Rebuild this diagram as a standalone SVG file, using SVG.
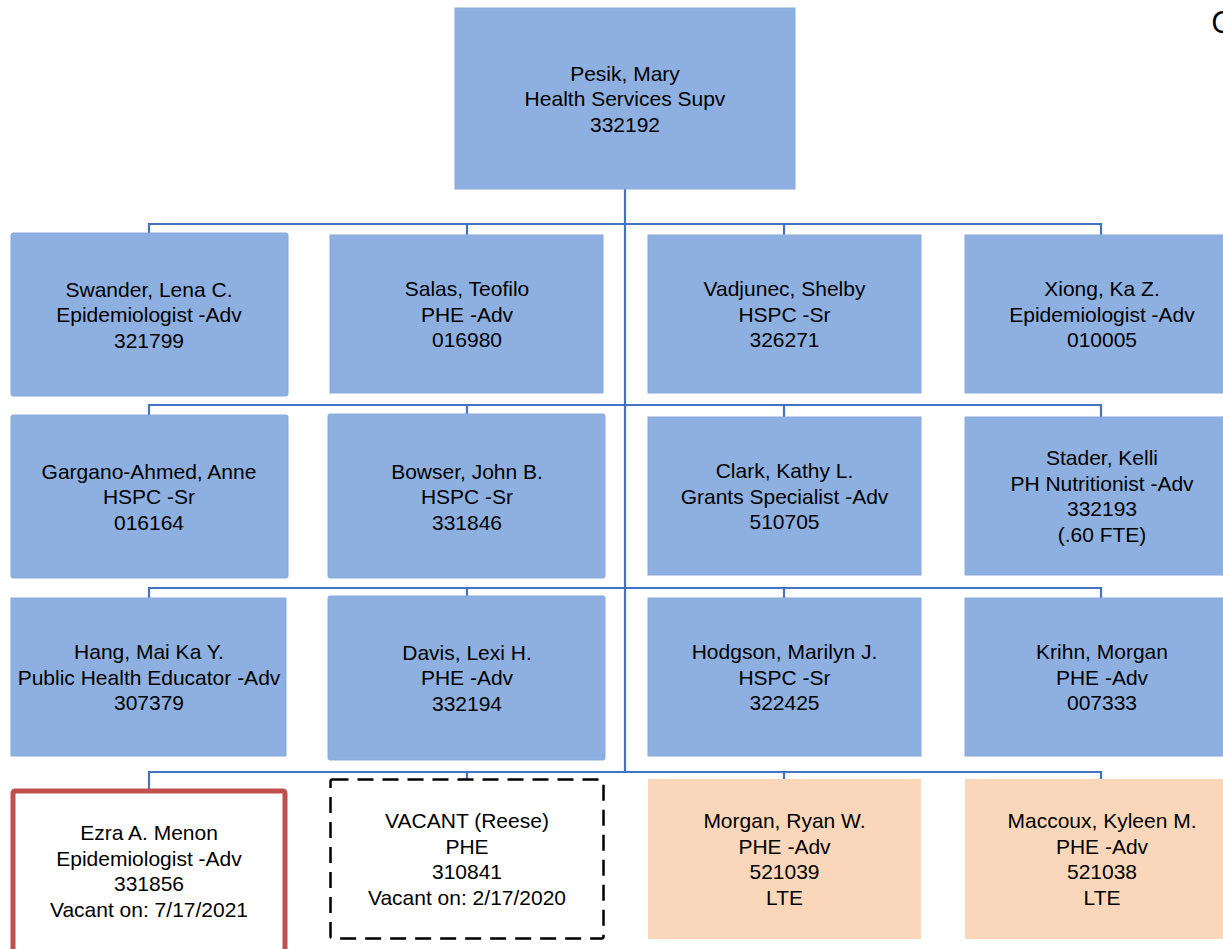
<svg xmlns="http://www.w3.org/2000/svg" width="1223" height="949" viewBox="0 0 1223 949">
<style>
.b{fill:#8DB0E0;stroke:#88AADB;stroke-width:1}
.p{fill:#FAD7BA}
.r{fill:#FFFFFF;stroke:#C0504D;stroke-width:5}
.v{fill:#FFFFFF;stroke:#000000;stroke-width:2.5;stroke-dasharray:16 9}
text{font-family:"Liberation Sans",Arial,sans-serif;font-size:21px;fill:#000;text-anchor:middle}
.c line{stroke:#4472C4;stroke-width:2.2}
</style>
<rect width="1223" height="949" fill="#FFFFFF"/>
<text x="1211" y="33" style="font-size:31px;text-anchor:start;font-family:'Open Sans',sans-serif">C</text>
<g id="connectors" class="c">
<line x1="625" y1="189" x2="625" y2="773"/>
<line x1="149" y1="224" x2="1102" y2="224"/>
<line x1="149" y1="405" x2="1102" y2="405"/>
<line x1="149" y1="588" x2="1102" y2="588"/>
<line x1="149" y1="772" x2="1102" y2="772"/>
<line x1="149" y1="223" x2="149" y2="234"/>
<line x1="467" y1="223" x2="467" y2="236"/>
<line x1="784" y1="223" x2="784" y2="236"/>
<line x1="1101" y1="223" x2="1101" y2="236"/>
<line x1="149" y1="404" x2="149" y2="416"/>
<line x1="467" y1="404" x2="467" y2="415"/>
<line x1="784" y1="404" x2="784" y2="418"/>
<line x1="1101" y1="404" x2="1101" y2="418"/>
<line x1="149" y1="587" x2="149" y2="599"/>
<line x1="467" y1="587" x2="467" y2="597"/>
<line x1="784" y1="587" x2="784" y2="599"/>
<line x1="1101" y1="587" x2="1101" y2="599"/>
<line x1="149" y1="771" x2="149" y2="790"/>
<line x1="467" y1="771" x2="467" y2="780"/>
<line x1="784" y1="771" x2="784" y2="780"/>
<line x1="1101" y1="771" x2="1101" y2="780"/>
</g>
<g id="pesik"><rect class="b" x="455" y="8" width="340" height="181"/>
<text x="625" y="80.5">Pesik, Mary</text><text x="625" y="106">Health Services Supv</text><text x="625" y="131.5">332192</text></g>
<g id="swander"><rect class="b" x="11" y="233" width="277" height="163" rx="2"/>
<text x="149" y="296.5">Swander, Lena C.</text><text x="149" y="322">Epidemiologist -Adv</text><text x="149" y="347.5">321799</text></g>
<g id="salas"><rect class="b" x="330" y="235" width="273" height="158"/>
<text x="467" y="296">Salas, Teofilo</text><text x="467" y="321.5">PHE -Adv</text><text x="467" y="347">016980</text></g>
<g id="vadjunec"><rect class="b" x="648" y="235" width="273" height="158"/>
<text x="784.5" y="296">Vadjunec, Shelby</text><text x="784.5" y="321.5">HSPC -Sr</text><text x="784.5" y="347">326271</text></g>
<g id="xiong"><rect class="b" x="965" y="235" width="273" height="158"/>
<text x="1102" y="296">Xiong, Ka Z.</text><text x="1102" y="321.5">Epidemiologist -Adv</text><text x="1102" y="347">010005</text></g>
<g id="gargano"><rect class="b" x="11" y="415" width="277" height="163" rx="2"/>
<text x="149" y="478.5">Gargano-Ahmed, Anne</text><text x="149" y="504">HSPC -Sr</text><text x="149" y="529.5">016164</text></g>
<g id="bowser"><rect class="b" x="328" y="414" width="277" height="164" rx="2"/>
<text x="467" y="478.5">Bowser, John B.</text><text x="467" y="504">HSPC -Sr</text><text x="467" y="529.5">331846</text></g>
<g id="clark"><rect class="b" x="648" y="417" width="273" height="158"/>
<text x="784.5" y="478">Clark, Kathy L.</text><text x="784.5" y="503.5">Grants Specialist -Adv</text><text x="784.5" y="529">510705</text></g>
<g id="stader"><rect class="b" x="965" y="417" width="273" height="158"/>
<text x="1102" y="465">Stader, Kelli</text><text x="1102" y="490.5">PH Nutritionist -Adv</text><text x="1102" y="516">332193</text><text x="1102" y="541.5">(.60 FTE)</text></g>
<g id="hang"><rect class="b" x="11" y="598" width="275" height="158"/>
<text x="149" y="659">Hang, Mai Ka Y.</text><text x="149" y="684.5">Public Health Educator -Adv</text><text x="149" y="710">307379</text></g>
<g id="davis"><rect class="b" x="328" y="596" width="277" height="164" rx="2"/>
<text x="467" y="659.5">Davis, Lexi H.</text><text x="467" y="685">PHE -Adv</text><text x="467" y="710.5">332194</text></g>
<g id="hodgson"><rect class="b" x="648" y="598" width="273" height="158"/>
<text x="784.5" y="659">Hodgson, Marilyn J.</text><text x="784.5" y="684.5">HSPC -Sr</text><text x="784.5" y="710">322425</text></g>
<g id="krihn"><rect class="b" x="965" y="598" width="273" height="158"/>
<text x="1102" y="659">Krihn, Morgan</text><text x="1102" y="684.5">PHE -Adv</text><text x="1102" y="710">007333</text></g>
<g id="menon"><rect class="r" x="13" y="791" width="272" height="170" rx="2"/>
<text x="149" y="840">Ezra A. Menon</text><text x="149" y="865.5">Epidemiologist -Adv</text><text x="149" y="891">331856</text><text x="149" y="916.5">Vacant on: 7/17/2021</text></g>
<g id="vacant"><rect class="v" x="330.5" y="779.5" width="273" height="159" rx="2"/>
<text x="467" y="828">VACANT (Reese)</text><text x="467" y="853.5">PHE</text><text x="467" y="879">310841</text><text x="467" y="904.5">Vacant on: 2/17/2020</text></g>
<g id="morgan"><rect class="p" x="648" y="779" width="273" height="160"/>
<text x="784.5" y="828">Morgan, Ryan W.</text><text x="784.5" y="853.5">PHE -Adv</text><text x="784.5" y="879">521039</text><text x="784.5" y="904.5">LTE</text></g>
<g id="maccoux"><rect class="p" x="965" y="779" width="273" height="160"/>
<text x="1102" y="828">Maccoux, Kyleen M.</text><text x="1102" y="853.5">PHE -Adv</text><text x="1102" y="879">521038</text><text x="1102" y="904.5">LTE</text></g>
</svg>
